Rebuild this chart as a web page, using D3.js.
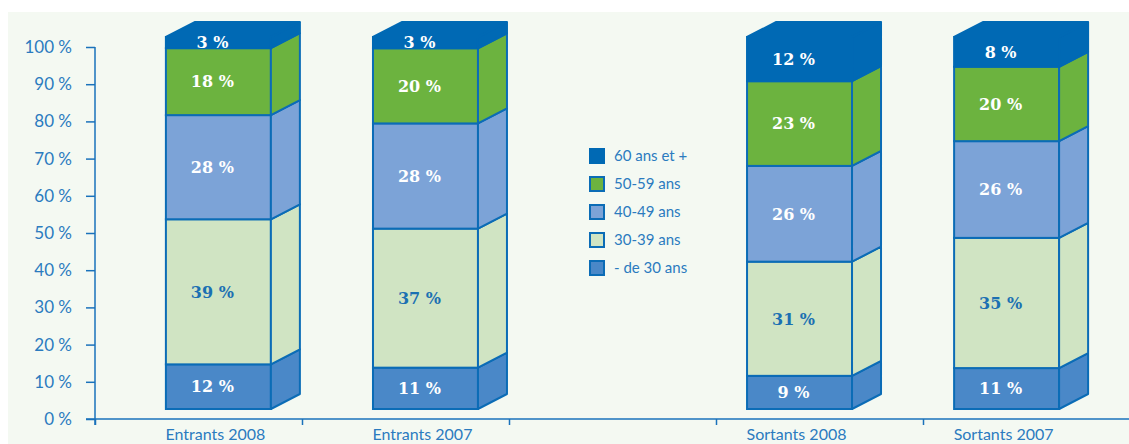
<!DOCTYPE html>
<html>
<head>
<meta charset="utf-8">
<script src="https://cdn.jsdelivr.net/npm/d3@7"></script>
<style>
  html, body { margin: 0; padding: 0; background: #fff; }
  svg { display: block; }
  .axis path, .axis line { stroke: #1a72bb; stroke-width: 1.5; }
  .axis text { fill: #2b7bbf; font-family: Lato, sans-serif; font-size: 17px; }
  .val { font-family: "DejaVu Serif", serif; font-weight: bold; font-size: 16px; }
  .cat { fill: #2b7bbf; font-family: Lato, sans-serif; font-size: 16px; }
  .leg text { fill: #2b7bbf; font-family: Lato, sans-serif; font-size: 15px; }
</style>
</head>
<body>
<div id="chart"></div>
<script>
// Stacked 3D-style age bars, entrants vs leavers. Values in % per category.
const CATEGORIES = ["Entrants 2008", "Entrants 2007", "Sortants 2008", "Sortants 2007"];
const GROUPS = ["Entrants", "Sortants"];
const YEARS = ["2008", "2007"];
const AGES = ["- de 30 ans", "30-39 ans", "40-49 ans", "50-59 ans", "60 ans et +"];
const DE_30 = [12, 11, 9, 11];
const A30_39 = [39, 37, 31, 35];
const A40_49 = [28, 28, 26, 26];
const A50_59 = [18, 20, 23, 20];
const A60_PLUS = [3, 3, 12, 8];
const Y_TICKS = [0, 10, 20, 30, 40, 50, 60, 70, 80, 90, 100];

const COLORS = { "- de 30 ans": "#4a88c8", "30-39 ans": "#d0e4c3", "40-49 ans": "#7ca3d7",
                 "50-59 ans": "#6cb33f", "60 ans et +": "#0069b4" };
const EDGE = "#0b6cb6";
const DX = 29, DY = -15, LIFT = 10;

const rows = CATEGORIES.map((c, i) => ({
  cat: c, group: c.split(" ")[0], year: c.split(" ")[1],
  "- de 30 ans": DE_30[i], "30-39 ans": A30_39[i], "40-49 ans": A40_49[i],
  "50-59 ans": A50_59[i], "60 ans et +": A60_PLUS[i]
}));

const width = 1129, height = 444;
const svg = d3.select("#chart").append("svg").attr("width", width).attr("height", height);
svg.append("rect").attr("x", 8).attr("y", 12).attr("width", width - 8).attr("height", height - 12)
  .attr("fill", "#f4f9f2");

const y = d3.scaleLinear().domain([0, 100]).range([419, 47]);
const outer = d3.scaleBand().domain(GROUPS).range([95, 1130]).paddingInner(0.463).paddingOuter(0.122);
const inner = d3.scaleBand().domain(YEARS).range([0, outer.bandwidth()]).paddingInner(0.493).paddingOuter(0);
const slots = d3.scaleLinear().domain([0, 5]).range([95, 1130]);

// axes
svg.append("g").attr("class", "axis").attr("transform", "translate(0,419)")
  .call(d3.axisBottom(slots).tickValues([0, 1, 2, 3, 4, 5]).tickFormat("").tickSize(6).tickSizeOuter(0))
  .call(g => g.select(".domain").attr("d", "M86,0H1129"));
svg.append("g").attr("class", "axis").attr("transform", "translate(95,0)")
  .call(d3.axisLeft(y).tickValues(Y_TICKS).tickSize(9).tickPadding(14).tickFormat(d => d + " %"))
  .call(g => g.select(".domain").attr("d", "M0,47V425"));

const stacked = d3.stack().keys(AGES).offset(d3.stackOffsetExpand)(rows);
const bx = d => outer(d.data.group) + inner(d.data.year);
const yf = v => y(v * 100) - LIFT;
const bw = inner.bandwidth();

stacked.forEach((series, si) => {
  const top = si === stacked.length - 1;
  const fill = COLORS[series.key];
  const stroke = top ? fill : EDGE;
  const g = svg.append("g");
  series.forEach(d => {
    const x0 = bx(d), x1 = x0 + bw, yb = yf(d[0]), yt = yf(d[1]);
    g.append("rect").attr("x", x0).attr("y", yt).attr("width", bw).attr("height", yb - yt)
      .attr("fill", fill).attr("stroke", stroke).attr("stroke-width", 2);
    g.append("path").attr("d", `M${x1},${yb}L${x1 + DX},${yb + DY}L${x1 + DX},${yt + DY}L${x1},${yt}Z`)
      .attr("fill", fill).attr("stroke", stroke).attr("stroke-width", 2).attr("stroke-linejoin", "round");
    if (top) {
      g.append("path").attr("d", `M${x0},${yt}L${x0 + DX},${yt + DY}L${x1 + DX},${yt + DY}L${x1},${yt}Z`)
        .attr("fill", fill).attr("stroke", fill).attr("stroke-width", 2);
    }
  });
});

// value labels
stacked.forEach(series => {
  svg.append("g").selectAll("text").data(series).join("text").attr("class", "val")
    .attr("x", d => bx(d) + bw / 2 - 6).attr("y", d => (yf(d[0]) + yf(d[1])) / 2)
    .attr("dy", "0.36em").attr("text-anchor", "middle")
    .attr("fill", series.key === "30-39 ans" ? "#1b70b2" : "#ffffff")
    .text(d => d.data[series.key] + " %");
});

// category labels
svg.append("g").selectAll("text").data(rows).join("text").attr("class", "cat")
  .attr("x", d => outer(d.group) + inner(d.year) + bw / 2 - 3).attr("y", 440)
  .attr("text-anchor", "middle").text(d => d.cat);

// legend (top to bottom: oldest first)
const legKeys = AGES.slice().reverse();
const ly = d3.scaleBand().domain(legKeys).range([142, 282]);
const leg = svg.append("g").attr("class", "leg").selectAll("g").data(legKeys).join("g")
  .attr("transform", d => `translate(590,${ly(d) + ly.bandwidth() / 2 - 7})`);
leg.append("rect").attr("width", 14).attr("height", 14).attr("fill", d => COLORS[d])
  .attr("stroke", d => d === "60 ans et +" ? COLORS[d] : EDGE).attr("stroke-width", 2);
leg.append("text").attr("x", 24).attr("y", 7).attr("dy", "0.35em").text(d => d);
</script>
</body>
</html>
